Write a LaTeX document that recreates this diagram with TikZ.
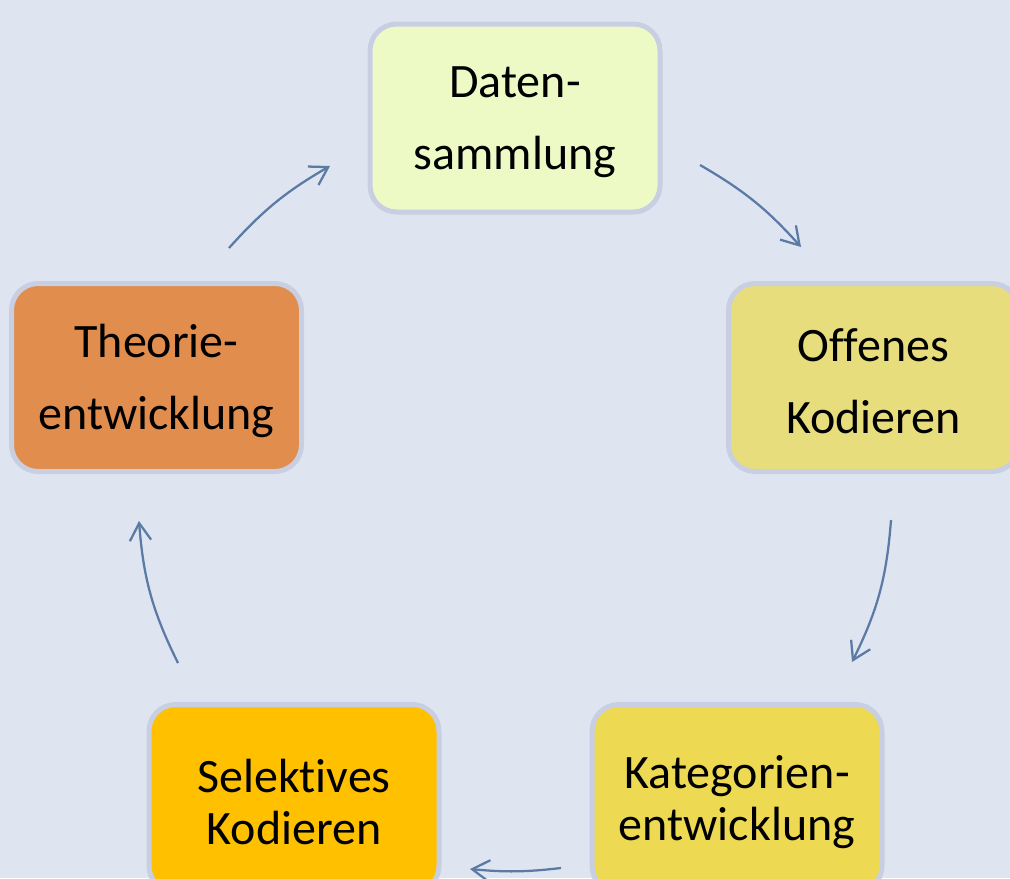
\documentclass[tikz,border=0pt]{standalone}
\usepackage{fontspec}
\setmainfont[Ligatures=NoCommon]{Carlito}
\usetikzlibrary{arrows.meta}
\definecolor{bg}{RGB}{223,229,240}
\definecolor{boxline}{RGB}{200,207,226}
\definecolor{arrowc}{RGB}{91,123,166}
\definecolor{cData}{RGB}{238,250,198}
\definecolor{cOffen}{RGB}{232,221,124}
\definecolor{cKat}{RGB}{237,218,82}
\definecolor{cSel}{RGB}{255,192,0}
\definecolor{cTheo}{RGB}{224,141,78}
\newcommand{\tstrut}{\rule{0pt}{30pt}}
\begin{document}
\begin{tikzpicture}[x=0.75pt,y=-0.75pt,
  box/.style={draw=boxline, line width=3.75pt, rounded corners=20pt,
    minimum width=217.5pt, minimum height=141pt, align=center,
    inner sep=0pt, text=black},
  toprow/.style={font=\fontsize{36}{54}\selectfont},
  lowrow/.style={font=\fontsize{36}{39}\selectfont},
  cyc/.style={draw=arrowc, line width=1.7pt,
    -{Straight Barb[length=13pt,width=16pt]}}]
\fill[bg] (0,0) rectangle (1010,878);
\useasboundingbox (0,0) rectangle (1010,878);
\clip (0,0) rectangle (1010,878);

\node[box, toprow, fill=cData]  (daten) at (515,118)   {\tstrut Daten-\\sammlung};
\node[box, toprow, fill=cOffen] (offen) at (873.5,377.5) {\tstrut Offenes\\Kodieren};
\node[box, lowrow, fill=cKat]   (kat)   at (737,798.5) {\tstrut Kategorien-\\entwicklung};
\node[box, lowrow, fill=cSel]   (sel)   at (294,798.5) {\tstrut Selektives\\Kodieren};
\node[box, toprow, fill=cTheo]  (theo)  at (156.5,377.5) {\tstrut Theorie-\\entwicklung};

\coordinate (a1s) at (229,248);
\coordinate (a1e) at (330,166);
\coordinate (a2s) at (700,165);
\coordinate (a2e) at (801,247);
\coordinate (a3s) at (891,520);
\coordinate (a3e) at (852,662);
\coordinate (a4s) at (561,868);
\coordinate (a4e) at (470,869);
\coordinate (a5s) at (178,663);
\coordinate (a5e) at (139,521);

\draw[cyc] (a1s) to[bend left=9] (a1e);
\draw[cyc] (a2s) to[bend left=9] (a2e);
\draw[cyc] (a3s) to[bend left=11] (a3e);
\draw[cyc] (a4s) to[bend left=6] (a4e);
\draw[cyc] (a5s) to[bend left=11] (a5e);
\end{tikzpicture}
\end{document}
